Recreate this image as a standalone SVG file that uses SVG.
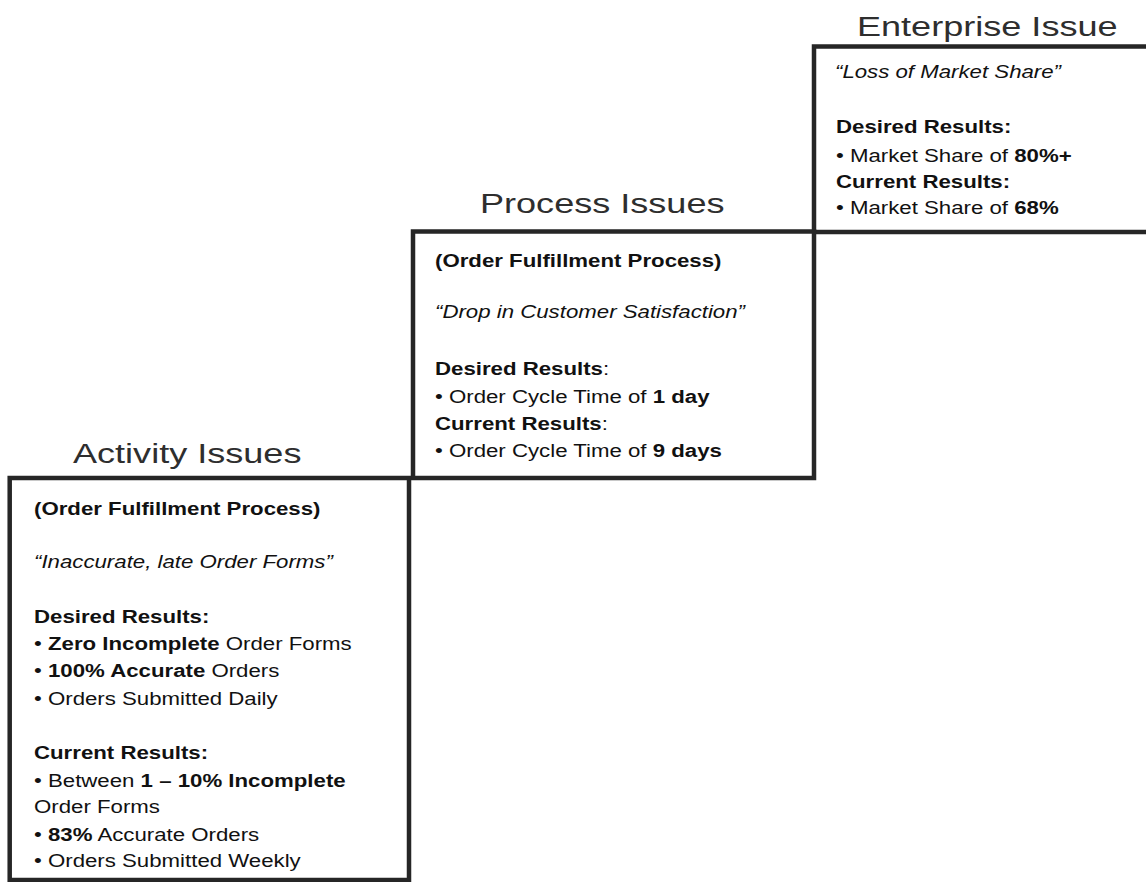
<svg xmlns="http://www.w3.org/2000/svg" width="1146" height="882" viewBox="0 0 1146 882">
<style>
.box{fill:#fff;stroke:#262626;stroke-width:4.5}
.title{font-family:"Liberation Sans",Arial,sans-serif;font-size:28.4px;fill:#2e2e2e}
.body{font-family:"Liberation Sans",Arial,sans-serif;font-size:17.5px;fill:#111}
.b{font-weight:bold}
.i{font-style:italic}
</style>
<rect width="1146" height="882" fill="#fff"/>
<g id="enterprise">
<rect class="box" x="814" y="46.5" width="360" height="185.5"/>
<text class="title" transform="translate(857,36) scale(1.27,1)">Enterprise Issue</text>
<text class="body i" transform="translate(835,78) scale(1.27,1)">“Loss of Market Share”</text>
<text class="body b" transform="translate(836,133) scale(1.27,1)">Desired Results:</text>
<text class="body" transform="translate(836,161.5) scale(1.27,1)">• Market Share of <tspan class="b">80%+</tspan></text>
<text class="body b" transform="translate(836,188) scale(1.27,1)">Current Results:</text>
<text class="body" transform="translate(836,214) scale(1.27,1)">• Market Share of <tspan class="b">68%</tspan></text>
</g>
<g id="process">
<rect class="box" x="413" y="231.5" width="401" height="246.5"/>
<text class="title" transform="translate(480,213) scale(1.27,1)">Process Issues</text>
<text class="body b" transform="translate(435,267) scale(1.27,1)">(Order Fulfillment Process)</text>
<text class="body i" transform="translate(435,318) scale(1.27,1)">“Drop in Customer Satisfaction”</text>
<text class="body" transform="translate(435,375) scale(1.27,1)"><tspan class="b">Desired Results</tspan>:</text>
<text class="body" transform="translate(435,402.5) scale(1.27,1)">• Order Cycle Time of <tspan class="b">1 day</tspan></text>
<text class="body" transform="translate(435,429.5) scale(1.27,1)"><tspan class="b">Current Results</tspan>:</text>
<text class="body" transform="translate(435,456.5) scale(1.27,1)">• Order Cycle Time of <tspan class="b">9 days</tspan></text>
</g>
<g id="activity">
<rect class="box" x="9.7" y="478" width="399.3" height="402"/>
<text class="title" transform="translate(73,463) scale(1.27,1)">Activity Issues</text>
<text class="body b" transform="translate(34,515) scale(1.27,1)">(Order Fulfillment Process)</text>
<text class="body i" transform="translate(34,568) scale(1.27,1)">“Inaccurate, late Order Forms”</text>
<text class="body b" transform="translate(34,623) scale(1.27,1)">Desired Results:</text>
<text class="body" transform="translate(34,650) scale(1.27,1)">• <tspan class="b">Zero Incomplete</tspan> Order Forms</text>
<text class="body" transform="translate(34,677) scale(1.27,1)">• <tspan class="b">100% Accurate</tspan> Orders</text>
<text class="body" transform="translate(34,705) scale(1.27,1)">• Orders Submitted Daily</text>
<text class="body b" transform="translate(34,759) scale(1.27,1)">Current Results:</text>
<text class="body" transform="translate(34,787) scale(1.27,1)">• Between <tspan class="b">1 – 10% Incomplete</tspan></text>
<text class="body" transform="translate(34,813) scale(1.27,1)">Order Forms</text>
<text class="body" transform="translate(34,840.5) scale(1.27,1)">• <tspan class="b">83%</tspan> Accurate Orders</text>
<text class="body" transform="translate(34,867) scale(1.27,1)">• Orders Submitted Weekly</text>
</g>
<g id="connectors"></g>
</svg>
